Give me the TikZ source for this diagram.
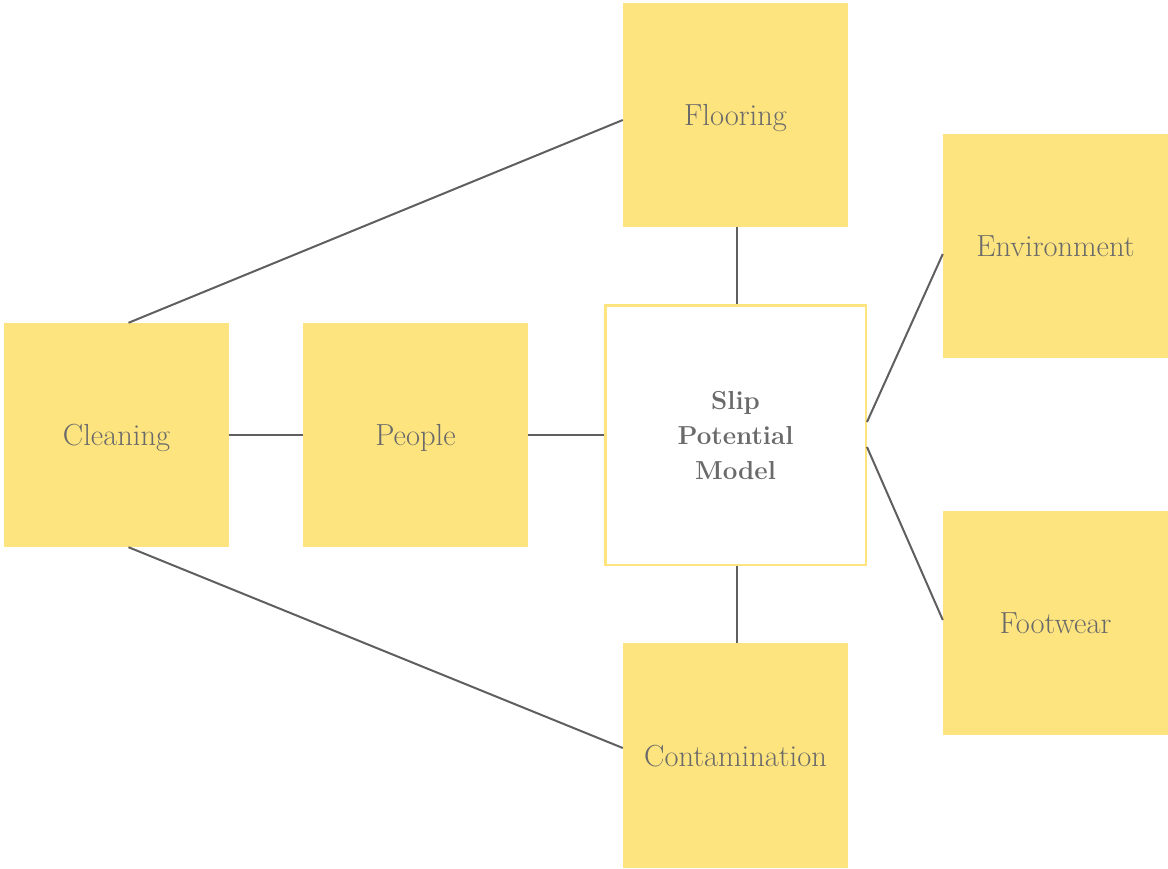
\documentclass[tikz,border=0pt]{standalone}
\usepackage{fontspec}
\setmainfont{Latin Modern Roman}
\usetikzlibrary{calc}
\definecolor{boxyellow}{HTML}{FDE47E}
\definecolor{linegrey}{HTML}{5F5F5F}
\definecolor{textgrey}{HTML}{6A6A6A}
\tikzset{
  factor/.style={fill=boxyellow, draw=none, minimum width=225pt, minimum height=224pt, inner sep=0pt,
    text=textgrey, font=\fontsize{30.5}{36}\selectfont, text height=21pt, text depth=0pt},
  central/.style={fill=white, draw=boxyellow, line width=2.5pt, minimum width=260.5pt, minimum height=259.5pt,
    inner sep=0pt, text=textgrey, align=center, font=\fontsize{26}{35}\selectfont\bfseries},
  link/.style={draw=linegrey, line width=2pt}
}
\begin{document}
\begin{tikzpicture}[x=1pt,y=-1pt]
\useasboundingbox (0,0) rectangle (1168,868);
\node[factor] (flooring) at (735.5,115) {Flooring};
\node[factor] (env) at (1055.5,246) {Environment};
\node[factor] (clean) at (116.5,435) {Cleaning};
\node[factor] (people) at (415.5,435) {People};
\node[central] (slip) at (735.5,435) {Slip\\Potential\\Model};
\node[factor] (foot) at (1055.5,623) {Footwear};
\node[factor, minimum height=225pt] (contam) at (735.5,755.5) {Contamination};
\draw[link] ([xshift=12pt]clean.north) -- ([yshift=-5pt]flooring.west);
\draw[link] ([xshift=12pt]clean.south) -- ([yshift=7.5pt]contam.west);
\draw[link] (clean.east) -- (people.west);
\draw[link] (people.east) -- (slip.west);
\draw[link] ([xshift=1.5pt]flooring.south) -- ([xshift=1.5pt]slip.north);
\draw[link] ([xshift=1.5pt]slip.south) -- ([xshift=1.5pt]contam.north);
\draw[link] ([yshift=13pt]slip.east) -- ([yshift=-8pt]env.west);
\draw[link] ([yshift=-12pt]slip.east) -- ([yshift=3pt]foot.west);
\end{tikzpicture}
\end{document}
